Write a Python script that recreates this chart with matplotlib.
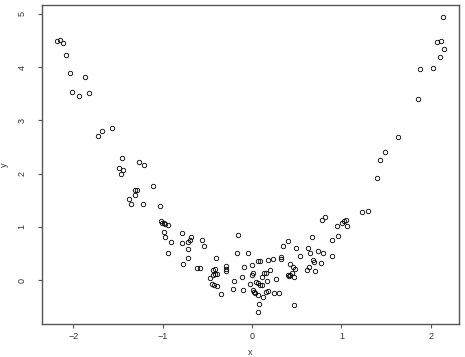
import matplotlib
matplotlib.use('Agg')
import matplotlib.pyplot as plt
from matplotlib import rcParams

rcParams['font.family'] = ['Liberation Sans', 'DejaVu Sans']

# data
x = [-2.185, -2.144, -2.117, -2.077, -2.032, -1.865, -2.013, -1.932, -1.827,
     -1.719, -1.674, -1.566, -1.454, -1.264, -1.208, -1.488, -1.440, -1.462,
     2.136, 2.066, 2.111, 2.148, 2.103, 2.021, 1.883, 1.853, 1.630, 1.488,
     1.428, 1.402,
     -1.111, -1.312, -1.290, -1.312, -1.372, -1.357, -1.216, -1.032, -1.018,
     -1.003, -0.988, -0.970, -0.940, -0.984, -0.973, -0.909, -0.936, -0.780,
     -0.783, -0.682, -0.694, -0.713, -0.720, -0.713, -0.775, -0.559, -0.533,
     -0.615, -0.582, -0.403, -0.433, -0.417, -0.440, -0.410, -0.388, -0.466,
     -0.447, -0.428, -0.388, -0.347, -0.287, -0.287, -0.294, -0.198, -0.216,
     -0.157, -0.164,
     -0.045, -0.086, -0.112, 0.000, 0.015, 0.000, -0.019, -0.104, 0.007,
     0.022, 0.037, 0.067, 0.127, 0.075, 0.064, 0.045, 0.067, 0.089, 0.115,
     0.071, 0.093, 0.112, 0.138, 0.153, 0.168, 0.201, 0.183, 0.239, 0.157,
     0.183, 0.250, 0.298, 0.272, 0.321, 0.324, 0.343, 0.406, 0.489, 0.428,
     0.462, 0.481, 0.451, 0.399, 0.417, 0.428, 0.466, 0.470, 0.537, 0.623,
     0.652, 0.671, 0.679, 0.693, 0.634, 0.619, 0.701, 0.735, 0.794, 0.772,
     0.898, 0.891, 0.965, 0.787, 0.813, 0.954, 1.007, 1.029, 1.048, 1.066,
     1.234, 1.294]
y = [4.50, 4.52, 4.46, 4.23, 3.90, 3.82, 3.53, 3.46, 3.52,
     2.71, 2.81, 2.86, 2.29, 2.22, 2.17, 2.10, 2.07, 1.99,
     4.95, 4.48, 4.49, 4.35, 4.19, 3.98, 3.96, 3.40, 2.69, 2.41,
     2.25, 1.92,
     1.77, 1.70, 1.69, 1.59, 1.52, 1.43, 1.43, 1.40, 1.11,
     1.07, 1.07, 1.05, 1.03, 0.90, 0.80, 0.71, 0.51, 0.89,
     0.70, 0.81, 0.76, 0.72, 0.58, 0.42, 0.30, 0.76, 0.64,
     0.22, 0.22, 0.41, 0.19, 0.20, 0.09, 0.11, 0.12, 0.04,
     -0.07, -0.09, -0.11, -0.26, 0.26, 0.21, 0.16, -0.02, -0.16,
     0.85, 0.50,
     0.51, 0.24, 0.06, 0.29, 0.14, 0.09, -0.08, -0.18, -0.19,
     -0.22, -0.24, -0.28, -0.31, -0.45, -0.60, -0.03, -0.06, -0.10, -0.09,
     0.35, 0.35, 0.06, 0.14, 0.14, -0.01, 0.19, 0.38, 0.40, -0.22,
     -0.20, -0.24, -0.24, 0.02, 0.44, 0.39, 0.64, 0.73, 0.60, 0.30,
     0.24, 0.20, 0.14, 0.09, 0.08, 0.09, 0.05, -0.47, 0.45, 0.60,
     0.51, 0.81, 0.38, 0.33, 0.24, 0.19, 0.16, 0.55, 0.51, 0.32,
     0.45, 0.76, 0.82, 1.13, 1.18, 1.02, 1.07, 1.11, 1.13, 1.02,
     1.28, 1.29]

xticks = [-2, -1, 0, 1, 2]
yticks = [0, 1, 2, 3, 4, 5]

fig = plt.figure(figsize=(4.65, 3.57), dpi=100)
ax = fig.add_axes([0.0903, 0.0933, 0.8974, 0.8927])
ax.plot(x, y, linestyle='none', marker='o', markersize=3.2,
        markerfacecolor='none', markeredgecolor='black', markeredgewidth=0.6)

ax.set_xlim(-2.349, 2.319)
ax.set_ylim(-0.821, 5.169)
ax.set_xticks(xticks)
ax.set_yticks(yticks)
ax.set_yticklabels([str(v) for v in yticks], rotation=90, va='center')

for s in ax.spines.values():
    s.set_color('#555555')
    s.set_linewidth(1.0)
ax.tick_params(axis='both', direction='out', length=3, width=0.8,
               color='#555555', labelsize=6.5, labelcolor='#333333')
ax.tick_params(axis='x', pad=3)
ax.tick_params(axis='y', pad=8)

ax.set_xlabel('x', fontsize=6.5, labelpad=5, color='#333333')
ax.set_ylabel('y', fontsize=6.5, labelpad=6, color='#333333')

fig.savefig('out.png', dpi=100)
